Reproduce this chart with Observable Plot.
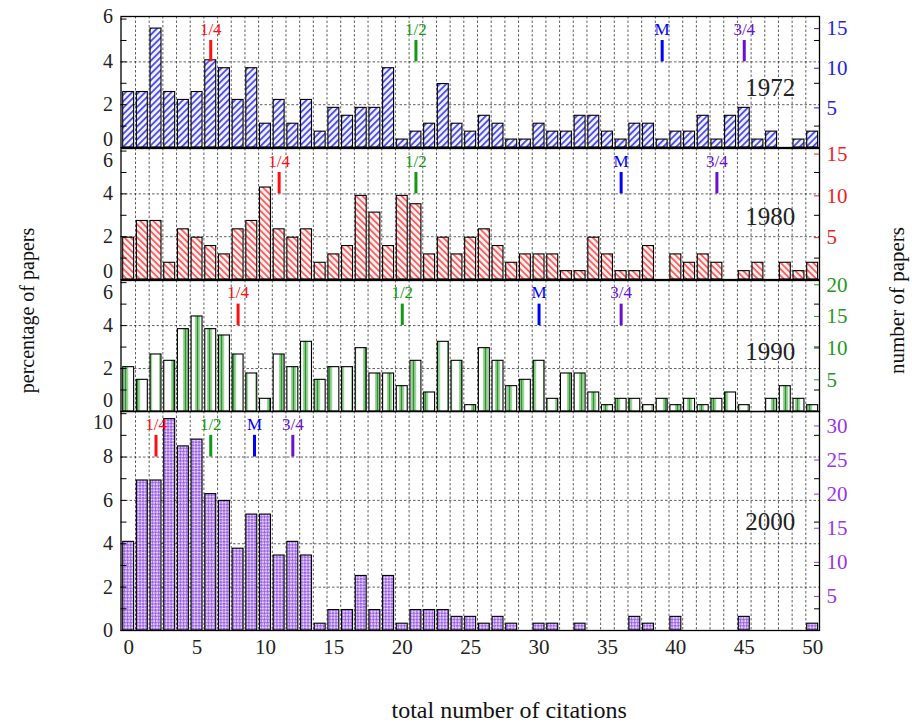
<!DOCTYPE html>
<html><head><meta charset="utf-8">
<script src="https://cdn.jsdelivr.net/npm/d3@7"></script>
<script src="https://cdn.jsdelivr.net/npm/@observablehq/plot@0.6"></script>
<style>
html,body{margin:0;padding:0;background:#fff;}
#chart{position:relative;width:912px;height:724px;overflow:hidden;font-family:"Liberation Serif","Times New Roman",serif;}
#chart svg{position:absolute;left:0;}
.title{position:absolute;color:#111;white-space:nowrap;transform-origin:center center;}
</style></head>
<body><div id="chart"></div>
<script>
// ---------- data ----------
const citations = [0,1,2,3,4,5,6,7,8,9,10,11,12,13,14,15,16,17,18,19,20,21,22,23,24,25,26,27,28,29,30,31,32,33,34,35,36,37,38,39,40,41,42,43,44,45,46,47,48,49,50];
const years = ["1972", "1980", "1990", "2000"];
const totalPapers = [270, 256, 339, 318];
const papers1972 = [7,7,15,7,6,7,11,10,6,10, 3,6,3,6,2,5,4,5,5,10, 1,2,3,8,3, 2,4,3,1,1,3,2,2,4,4, 2,1,3,3,1,2,2,4,1,4, 5,1,2,0,1,2];
const papers1980 = [5,7,7,2,6,5,4,3,6,7, 11,6,5,6,2,3,4,10,8,4, 10,9,3,5,3, 5,6,4,2,3,3,3,1,1,5, 3,1,1,4,0,3,2,3,2,0, 1,2,0,2,1,2];
const papers1990 = [7,5,9,8,13,15,13,12,9,6, 2,9,7,11,5,7,7,10,6,6, 4,8,3,11,8, 1,10,8,4,5,8,2,6,6,3, 1,2,2,1,2,1,2,1,2,3, 1,0,2,4,2,1];
const papers2000 = [13,22,22,31,27,28,20,19,12,17, 17,11,13,11,1,3,3,8,3,8, 1,3,3,3,2, 2,1,2,1,0,1,1,0,1,0, 0,0,2,1,0,2,0,0,0,0, 2,0,0,0,0,1];
const markerLabels = ["1/4", "1/2", "M", "3/4"];
const markers1972 = [6, 21, 39, 45];
const markers1980 = [11, 21, 36, 43];
const markers1990 = [8, 20, 30, 36];
const markers2000 = [2, 6, 9.2, 12];
const xTickLabels = [0, 5, 10, 15, 20, 25, 30, 35, 40, 45, 50];
const rightTicks1972 = [5, 10, 15];
const rightTicks1980 = [5, 10, 15];
const rightTicks1990 = [5, 10, 15, 20];
const rightTicks2000 = [5, 10, 15, 20, 25, 30];

// ---------- style / layout ----------
const markerColors = ["#ff1010", "#119911", "#0000ff", "#6a10d0"];
const axisColors = ["#2222ee", "#ee2222", "#229922", "#9933ee"];
const patterns = {
  "1972": `<pattern id="pat1972" patternUnits="userSpaceOnUse" width="4.6" height="4.6" patternTransform="rotate(45)"><rect width="4.6" height="4.6" fill="#f4f4ff"/><rect width="1.9" height="4.6" fill="#5050f0"/></pattern>`,
  "1980": `<pattern id="pat1980" patternUnits="userSpaceOnUse" width="4.6" height="4.6" patternTransform="rotate(-45)"><rect width="4.6" height="4.6" fill="#fff6f6"/><rect width="1.9" height="4.6" fill="#ff6060"/></pattern>`,
  "1990": `<pattern id="pat1990" patternUnits="userSpaceOnUse" width="12" height="10"><rect width="12" height="10" fill="#ffffff"/><rect x="3" width="1.6" height="10" fill="#9ad69a"/><rect x="4.6" width="2" height="10" fill="#2a962a"/><rect x="6.6" width="1.6" height="10" fill="#9ad69a"/></pattern>`,
  "2000": `<pattern id="pat2000" patternUnits="userSpaceOnUse" width="4.4" height="4.4" patternTransform="rotate(45)"><rect width="4.4" height="4.4" fill="#e2d2fc"/><rect width="2.3" height="2.3" fill="#9a5ce6"/><rect x="2.2" y="2.2" width="2.3" height="2.3" fill="#9a5ce6"/></pattern>`
};
const panels = [
  {year: years[0], counts: papers1972, total: totalPapers[0], markers: markers1972, right: rightTicks1972, color: axisColors[0],
   top: 16, bottom: 147, ymax: 6.12, grid: [2, 4], mLow: 4, yearY: 2.8, topDy: -2, zeroDy: -8, last: false},
  {year: years[1], counts: papers1980, total: totalPapers[1], markers: markers1980, right: rightTicks1980, color: axisColors[1],
   top: 148, bottom: 279, ymax: 6.12, grid: [2, 4], mLow: 4, yearY: 2.9, topDy: 10, zeroDy: -8, last: false},
  {year: years[2], counts: papers1990, total: totalPapers[2], markers: markers1990, right: rightTicks1990, color: axisColors[2],
   top: 279.5, bottom: 410.5, ymax: 6.1, grid: [2, 4], mLow: 4, yearY: 2.75, topDy: 10, zeroDy: -11, last: false},
  {year: years[3], counts: papers2000, total: totalPapers[3], markers: markers2000, right: rightTicks2000, color: axisColors[3],
   top: 411, bottom: 630, ymax: 10.1, grid: [2, 4, 6, 8], mLow: 8, yearY: 5.0, topDy: 9, zeroDy: 0, last: true}
];

const chart = document.getElementById("chart");
const MT = 14;
const gridXs = citations.slice(0, 50).map(c => c + 0.5);
const dash = {stroke: "#222", strokeOpacity: 0.9, strokeWidth: 0.8, strokeDasharray: "2.5,2"};
const lab = {anchor: "left", tickSize: 0, tickPadding: 8, fontSize: 20, label: null, fill: "#222"};

panels.forEach(p => {
  const mb = p.last ? 60 : 14;
  const data = citations.map((c, i) => ({c, n: p.counts[i]})).filter(d => d.n > 0);
  const pct = d => d.n * 100 / p.total;
  const mk = markerLabels.map((label, i) => ({label, x: p.markers[i], color: markerColors[i]}));
  const intTicks = d3.range(0, Math.floor(p.ymax) + 1);
  const oddTicks = intTicks.filter(v => v % 2 === 1);
  const topTick = p.last ? 10 : 6;
  const midTicks = p.last ? [2, 4, 6, 8] : [2, 4];
  const marks = [
    Plot.gridX(gridXs, dash),
    Plot.gridY(p.grid, dash),
    Plot.rect(data, {x1: d => d.c - 0.4, x2: d => d.c + 0.4, y1: 0, y2: pct,
      fill: `url(#pat${p.year})`, stroke: "#000", strokeWidth: 1.1}),
    Plot.ruleX(mk, {x: "x", y1: p.mLow, y2: p.mLow + 1, stroke: "color", strokeWidth: 3}),
    Plot.text(mk, {x: "x", y: p.mLow + 1.52, text: "label", fill: "color", fontSize: 17}),
    Plot.text([p.year], {x: 46.9, y: p.yearY, text: d => d, fontSize: 25, fill: "#222"}),
    Plot.axisY(intTicks, {anchor: "left", tickSize: -6, fill: "none", label: null}),
    Plot.axisY(oddTicks, {anchor: "right", tickSize: -6, fill: "none", label: null}),
    Plot.axisY(p.right.map(c => c * 100 / p.total), {anchor: "right", tickSize: -6, tickPadding: 13,
      tickFormat: d => String(Math.round(d * p.total / 100)), color: p.color, fontSize: 21, label: null}),
    Plot.axisY(midTicks, lab),
    Plot.axisY([topTick], {...lab, dy: p.topDy}),
    Plot.axisY([0], {...lab, dy: p.zeroDy}),
    Plot.frame({stroke: "#000", strokeWidth: 1.3})
  ];
  if (p.last) {
    marks.push(Plot.axisX(xTickLabels, {anchor: "bottom", tickSize: 0, tickPadding: 9, fontSize: 21, label: null, fill: "#222"}));
  }
  const svg = Plot.plot({
    width: 912,
    height: p.bottom - p.top + MT + mb,
    marginLeft: 120.5, marginRight: 93, marginTop: MT, marginBottom: mb,
    x: {domain: [-0.56, 50.5], axis: p.last ? undefined : null},
    y: {domain: [0, p.ymax]},
    color: {type: "identity"},
    style: {fontFamily: "'Liberation Serif','Times New Roman',serif", fontSize: "21px", background: "transparent", overflow: "visible"},
    marks
  });
  d3.select(svg).insert("defs", ":first-child").html(patterns[p.year]);
  svg.style.position = "absolute";
  svg.style.left = "0px";
  svg.style.top = (p.top - MT) + "px";
  chart.appendChild(svg);
});

function addTitle(text, cx, cy, rot, size) {
  const d = document.createElement("div");
  d.className = "title";
  d.style.fontSize = size + "px";
  d.textContent = text;
  chart.appendChild(d);
  const w = d.offsetWidth, h = d.offsetHeight;
  d.style.left = (cx - w / 2) + "px";
  d.style.top = (cy - h / 2) + "px";
  if (rot) d.style.transform = `rotate(${rot}deg)`;
}
addTitle("percentage of papers", 27, 310, -90, 20);
addTitle("number of papers", 897, 300, -90, 21);
addTitle("total number of citations", 509, 710, 0, 24);
</script>
</body></html>
